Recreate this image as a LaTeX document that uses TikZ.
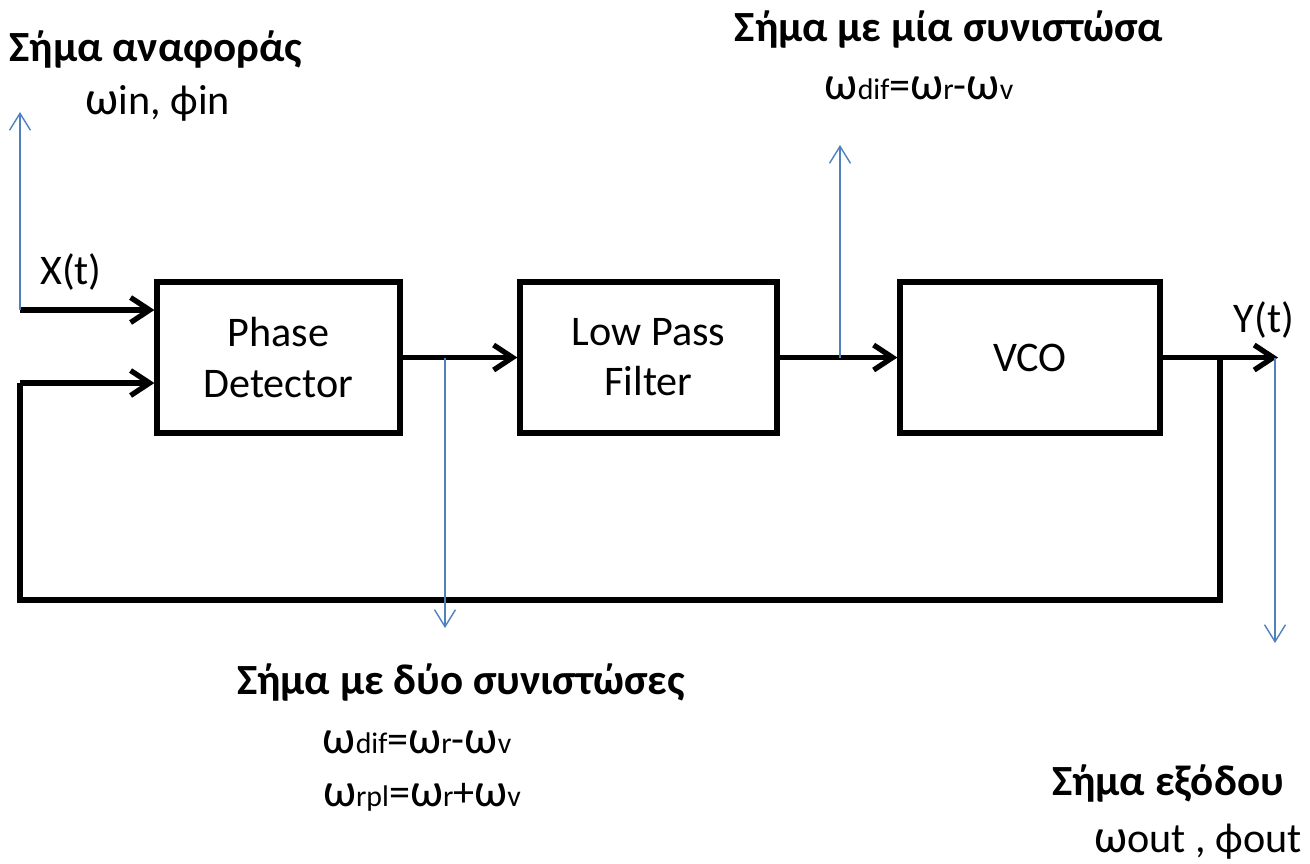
\documentclass[tikz,border=0pt]{standalone}
\usepackage{fontspec}
\setmainfont{Carlito}
\usetikzlibrary{arrows.meta}

\definecolor{probeblue}{RGB}{79,129,189}
\newcommand{\sml}[1]{{\fontsize{17}{18}\selectfont #1}}
\newcommand{\om}{{\fontsize{27}{28}\selectfont ω}}

\tikzset{
	block/.style={draw, line width=3pt, minimum height=3.02cm, align=center, font=\fontsize{24}{28.5}\selectfont},
	sig/.style={line width=3pt, -{Straight Barb[length=3.8mm,width=5mm]}},
	wire/.style={line width=3pt},
	probe/.style={draw=probeblue, line width=0.8pt, -{Straight Barb[length=3.4mm,width=4.2mm]}},
	txt/.style={font=\fontsize{24}{26}\selectfont, inner sep=0pt},
	head/.style={font=\bfseries\fontsize{24.5}{26}\selectfont, inner sep=0pt}
}

\begin{document}
\begin{tikzpicture}[x=0.02cm,y=-0.02cm]
	\useasboundingbox (0,0) rectangle (1310,863);

	% blocks
	\node[block, minimum width=4.86cm] (pd) at (278.5,357.5) {Phase\\Detector};
	\node[block, minimum width=5.14cm] (lpf) at (648.5,357.5) {Low Pass\\Filter};
	\node[block, minimum width=5.2cm] (vco) at (1030,357.5) {VCO};

	% signal points
	\coordinate (in) at (20,310);
	\coordinate (fbin) at (20,383);
	\coordinate (fbl) at (20,600);
	\coordinate (split) at (1220,357.5);
	\coordinate (fbr) at (1220,600);
	\coordinate (out) at (1278,357.5);
	\coordinate (tapa) at (445,357.5);
	\coordinate (tapb) at (840,357.5);
	\coordinate (tapc) at (1275,357.5);

	% main path
	\draw[sig] (in) -- (in -| pd.west);
	\draw[sig] (pd.east) -- (lpf.west);
	\draw[sig] (lpf.east) -- (vco.west);
	\draw[sig] (vco.east) -- (out);
	\draw[wire] (split) -- (fbr) -- (fbl) -- (fbin);
	\draw[sig] (fbin) -- (fbin -| pd.west);

	% probes
	\coordinate (pin) at (20,112);
	\coordinate (pa) at (445,628);
	\coordinate (pb) at (840,145);
	\coordinate (pc) at (1275,643);
	\draw[probe] (in) -- (pin);
	\draw[probe] (tapa) -- (pa);
	\draw[probe] (tapb) -- (pb);
	\draw[probe] (tapc) -- (pc);

	% labels
	\node[head] (refh) at (156,50) {Σήμα αναφοράς};
	\node[txt] (refv) at (158,103) {\om in, ϕin};
	\node[txt] (xt) at (71,272) {X(t)};
	\node[txt] (yt) at (1264,320) {Y(t)};
	\node[head] (oneh) at (949,30) {Σήμα με μία συνιστώσα};
	\node[txt] (onev) at (919,88) {\om\sml{dif}=\om\sml{r}-\om\sml{v}};
	\node[head] (twoh) at (461,683) {Σήμα με δύο συνιστώσες};
	\node[txt] (twoa) at (417,742) {\om\sml{dif}=\om\sml{r}-\om\sml{v}};
	\node[txt] (twob) at (422,797) {\om\sml{rpl}=\om\sml{r}+\om\sml{v}};
	\node[head] (outh) at (1168,783) {Σήμα εξόδου};
	\node[txt] (outv) at (1198,842) {\om out , ϕout};
\end{tikzpicture}
\end{document}
